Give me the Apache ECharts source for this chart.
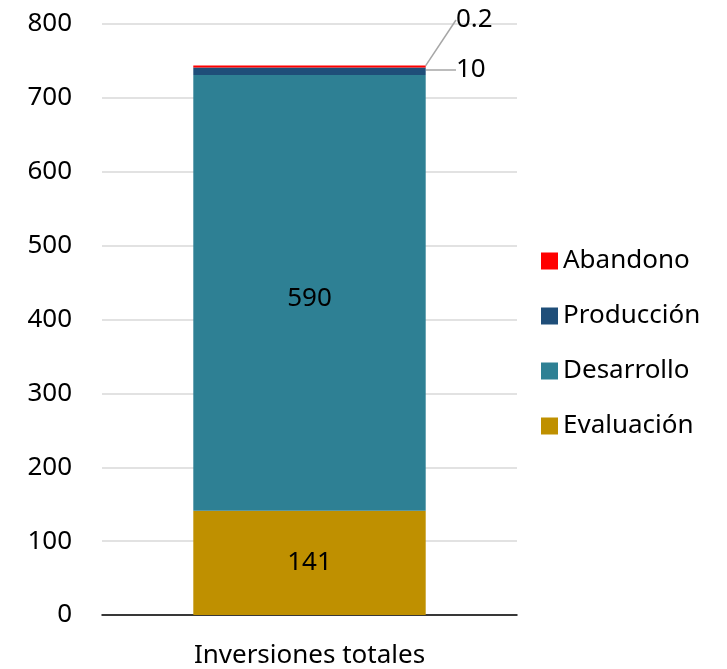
<!DOCTYPE html>
<html>
<head>
<meta charset="utf-8">
<script src="https://cdn.jsdelivr.net/npm/echarts@6/dist/echarts.min.js"></script>
<style>
  html, body { margin: 0; padding: 0; background: #fff; }
  #chart { width: 727px; height: 669px; }
</style>
</head>
<body>
<div id="chart"></div>
<script>
const categories = ["Inversiones totales"];
const evaluacion = [141];
const desarrollo = [590];
const produccion = [10];
const abandono = [0.2];
const yTicks = [0, 800, 100]; // min, max, interval

const fontFamily = "'Noto Sans', 'Open Sans', sans-serif";
const fontSize = 26;
const chart = echarts.init(document.getElementById("chart"));

const option = {
  animation: false,
  textStyle: { fontFamily: fontFamily },
  grid: { left: 102, right: 210, top: 24, bottom: 54 },
  legend: {
    orient: "vertical",
    left: 536,
    top: 243,
    itemWidth: 17,
    itemHeight: 17,
    itemGap: 29,
    itemTextGap: 19,
    icon: "rect",
    data: ["Abandono", "Producción", "Desarrollo", "Evaluación"],
    textStyle: { fontSize: fontSize, color: "#000", fontFamily: fontFamily }
  },
  xAxis: {
    type: "category",
    data: categories,
    axisLine: { lineStyle: { color: "#000", width: 1.5 } },
    axisTick: { show: false },
    axisLabel: { fontSize: fontSize, color: "#000", margin: 28 }
  },
  yAxis: {
    type: "value",
    min: yTicks[0],
    max: yTicks[1],
    interval: yTicks[2],
    axisLine: { show: false },
    axisTick: { show: false },
    axisLabel: { fontSize: fontSize, color: "#000", margin: 30 },
    splitLine: { lineStyle: { color: "#D9D9D9", width: 1.5 } }
  },
  series: [
    {
      name: "Evaluación",
      type: "bar",
      stack: "total",
      data: evaluacion,
      barWidth: "56%",
      itemStyle: { color: "#BF9000" },
      label: { show: true, position: "inside", fontSize: fontSize, color: "#000" }
    },
    {
      name: "Desarrollo",
      type: "bar",
      stack: "total",
      data: desarrollo,
      itemStyle: { color: "#2E8094" },
      label: { show: true, position: "inside", fontSize: fontSize, color: "#000", offset: [0, 6] }
    },
    {
      name: "Producción",
      type: "bar",
      stack: "total",
      data: produccion,
      itemStyle: { color: "#1F4E79" },
      label: { show: true, position: "right", fontSize: fontSize, color: "#000", distance: 30 },
      labelLine: { show: true, lineStyle: { color: "#A6A6A6", width: 1.5 } },
      labelLayout: { x: 456, y: 70, align: "left", verticalAlign: "middle" }
    },
    {
      name: "Abandono",
      type: "bar",
      stack: "total",
      data: abandono,
      barMinHeight: 2,
      itemStyle: { color: "#FF0000" },
      label: { show: true, position: "top", fontSize: fontSize, color: "#000" },
      labelLine: { show: true, lineStyle: { color: "#A6A6A6", width: 1.5 } },
      labelLayout: { x: 456, y: 20, align: "left", verticalAlign: "middle" }
    }
  ]
};

chart.setOption(option);
</script>
</body>
</html>
